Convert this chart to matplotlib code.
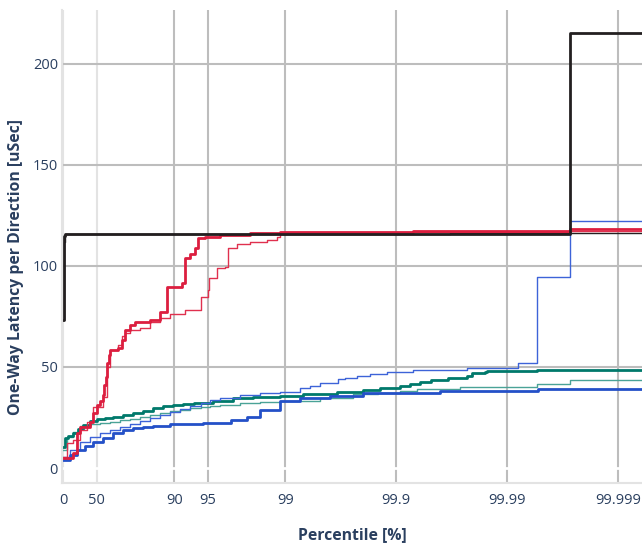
import numpy as np
import matplotlib.pyplot as plt

# percentile [%] -> latency [uSec], step curves (level starts at given percentile)
black_thick_p = [0, 0.5, 2, 4.06, 99.9973, 99.99939]
black_thick_y = [73, 113, 115, 116, 215, 215]
black_thin_p = [0, 0.5, 3, 99.967, 99.99939]
black_thin_y = [73, 112, 116, 116.5, 116.5]

red_thick_p = [0, 18.7, 25.2, 29.7, 42.9, 46.3, 50.6, 53.5, 56.4, 57.2, 58.5, 59.8,
               61.0, 62.2, 68.0, 70.6, 72.4, 75.1, 77.5, 83.6, 86.6, 88.4, 91.5,
               92.0, 92.8, 93.5, 93.9, 94.7, 96.1, 97.93, 98.89, 99.93, 99.9973,
               99.99939]
red_thick_y = [5, 7.4, 17.3, 20.3, 22.8, 27, 31, 33, 36, 41, 45, 52,
               56, 58.5, 59.4, 63.4, 68.3, 70.8, 72.3, 73.3, 77, 89.6, 91.6,
               104, 106, 109, 113.9, 114.4, 115.3, 116.3, 116.8, 117.5, 118.5,
               118.5]
red_thin_p = [0, 7.96, 18.7, 29.7, 39.2, 46.3, 56.4, 60.0, 62.2, 68.0, 70.6, 72.4,
              75.1, 79.8, 83.6, 86.6, 89.1, 92.0, 94.2, 95.0, 95.1, 95.9, 96.5,
              96.7, 97.3, 97.93, 98.55, 98.82, 98.89, 99.93, 99.9973, 99.99939]
red_thin_y = [5.4, 12.4, 13.9, 18.8, 22.8, 30.2, 35.1, 50, 58.4, 61, 65.3, 67,
              68.3, 69.5, 72, 74, 76, 78, 84.5, 88, 94, 99, 99.5,
              109, 111, 112, 113, 114.5, 116, 116.8, 117.5, 117.5]

blue_thick_p = [0, 13.5, 25.2, 36.6, 46.3, 56.4, 64.5, 71.2, 76.6, 81.0, 84.5,
                89.1, 94.5, 96.9, 97.8, 98.32, 98.89, 99.267, 99.606, 99.8, 99.96,
                99.99474, 99.99939]
blue_thick_y = [4, 6.4, 8.9, 10.9, 12.9, 14.9, 17.3, 18.8, 19.8, 20.3, 20.8,
                21.8, 22.3, 23.8, 25.2, 28.7, 33, 34.6, 35.5, 37, 38,
                39.1, 39.1]
blue_thin_p = [0, 13.5, 29.7, 42.9, 53.5, 62.2, 69.4, 75.1, 79.8, 83.6, 86.6,
               89.1, 91.2, 92.8, 94.2, 95.26, 96.1, 97.46, 98.32, 98.89, 99.267,
               99.404, 99.516, 99.667, 99.712, 99.776, 99.829, 99.88, 99.93,
               99.9771, 99.99204, 99.99463, 99.9973, 99.99939]
blue_thin_y = [5.4, 8.9, 12.9, 15.3, 17.3, 18.8, 20.3, 21.8, 23.3, 24.8, 26.2,
               27.7, 29.2, 30.7, 32.2, 33.7, 34.7, 36.1, 37.1, 37.6, 39.6,
               40.6, 42, 44, 44.5, 45.5, 46.5, 47.5, 48.5,
               49.5, 52, 94.5, 122, 122]

green_thick_p = [0, 4.06, 9.8, 18.7, 26.7, 34.0, 42.9, 50.6, 58.1, 64.5, 71.2,
                 76.6, 81.0, 84.5, 87.4, 89.8, 91.7, 93.3, 95.5, 97.06, 98.06,
                 98.89, 99.311, 99.66, 99.802, 99.861, 99.908, 99.925, 99.939,
                 99.951, 99.966, 99.9771, 99.9794, 99.9842, 99.9849, 99.99463,
                 99.99939]
green_thick_y = [10.4, 14.9, 15.8, 17.3, 19.3, 21.3, 23.3, 24.3, 24.8, 25.2, 26.2,
                 27.2, 28.2, 29.7, 30.7, 31.2, 31.7, 32.2, 33.2, 34.7, 35.1,
                 35.6, 36.6, 37.6, 38.6, 39.6, 40.6, 41.6, 42.6,
                 43.6, 44.6, 45.5, 47, 47.5, 48, 48.7,
                 48.7]
green_thin_p = [0, 7.96, 18.7, 29.7, 42.9, 53.5, 62.2, 69.4, 75.1, 79.8, 83.6,
                86.6, 89.1, 91.2, 92.8, 94.2, 95.26, 96.1, 97.46, 98.32, 98.89,
                99.516, 99.756, 99.855, 99.908, 99.935, 99.9735, 99.99463,
                99.9973, 99.99939]
green_thin_y = [8.9, 15.3, 17.8, 20.8, 21.8, 22.3, 23, 23.8, 24.5, 25.2, 26.2,
                27.2, 28, 28.7, 29.5, 30.2, 30.7, 31.2, 32.2, 32.7, 33.2,
                34.6, 36.6, 37.1, 38.1, 39.1, 40.1, 41.6,
                43.6, 43.6]

tick_pos = [0, 50, 90, 95, 99, 99.9, 99.99, 99.999]
tick_lab = ["0", "50", "90", "95", "99", "99.9", "99.99", "99.999"]
ytick_pos = [0, 50, 100, 150, 200]

font = ['Open Sans', 'DejaVu Sans']
txt = '#2a3f5f'


def fwd(p):
    p = np.asarray(p, dtype=float)
    return -np.log10(np.clip(1 - p / 100.0, 1e-12, None))


def inv(n):
    n = np.asarray(n, dtype=float)
    return 100.0 * (1 - 10 ** (-n))


fig = plt.figure(figsize=(6.42, 5.45), dpi=100)
ax = fig.add_axes([0.097, 0.1138, 0.903, 0.8682])
ax.set_xscale('function', functions=(fwd, inv))
ax.set_xlim(-2.1, 99.99939)
ax.set_ylim(-7.4, 226.7)

# grid
for t in tick_pos:
    c = '#e3e3e3' if t in (0, 50) else '#bdbdbd'
    ax.axvline(t, color=c, lw=1.5, zorder=0.5)
for t in ytick_pos[1:]:
    ax.axhline(t, color='#bdbdbd', lw=1.5, zorder=0.5)
ax.axhline(0, color='white', lw=2, zorder=0.8)

lines = [
    (green_thin_p, green_thin_y, '#4aa397', 1.0),
    (green_thick_p, green_thick_y, '#00796b', 2.0),
    (blue_thin_p, blue_thin_y, '#3d63d8', 1.0),
    (blue_thick_p, blue_thick_y, '#2450c8', 2.0),
    (black_thin_p, black_thin_y, '#231f20', 1.0),
    (red_thin_p, red_thin_y, '#e0304e', 1.0),
    (red_thick_p, red_thick_y, '#dc1e3f', 2.0),
    (black_thick_p, black_thick_y, '#231f20', 2.0),
]
for p, y, c, w in lines:
    ax.step(p, y, where='post', color=c, lw=w, zorder=2)

ax.set_xticks(tick_pos)
ax.set_xticklabels(tick_lab)
ax.set_yticks(ytick_pos)
ax.minorticks_off()
ax.tick_params(length=0, labelsize=10.5, labelcolor=txt)
ax.tick_params(axis='x', pad=7)
ax.tick_params(axis='y', pad=3)
for lab in ax.get_xticklabels() + ax.get_yticklabels():
    lab.set_family(font)

for s in ['top', 'right']:
    ax.spines[s].set_visible(False)
for s in ['left', 'bottom']:
    ax.spines[s].set_color('#e3e3e3')
    ax.spines[s].set_linewidth(1.5)

ax.set_xlabel('Percentile [%]', family=font, fontsize=11.3, fontweight='bold',
              color=txt, labelpad=14)
ax.set_ylabel('One-Way Latency per Direction [uSec]', family=font, fontsize=11.3,
              fontweight='bold', color=txt)
ax.yaxis.set_label_coords(-0.066, 0.457)

fig.savefig('out.png', dpi=100)
